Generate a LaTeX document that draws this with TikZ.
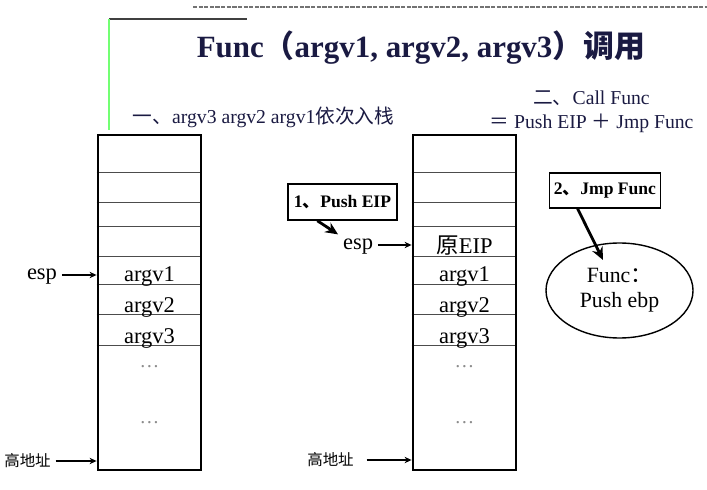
\documentclass[tikz,border=0pt]{standalone}
\usepackage{fontspec}
\setmainfont{Liberation Serif}
\newfontfamily\cjk{Noto Sans CJK SC}
\usepackage{xcolor}
\usepackage{tikz}
\usetikzlibrary{arrows.meta, positioning, shapes, calc, fit, backgrounds}

\definecolor{titleblue}{RGB}{26,26,66}

\begin{document}
\begin{tikzpicture}[
    stack/.style={rectangle, draw=black, line width=2pt, minimum width=2.575cm, minimum height=8.375cm, inner sep=0pt},
    row/.style={draw=black!70, line width=0.7pt},
    cell/.style={anchor=base, inner sep=0pt, font=\fontsize{16}{18}\selectfont},
    dots/.style={text=black!45, font=\fontsize{14}{16}\selectfont},
    reg/.style={text height=1.5ex, text depth=.25ex, font=\fontsize{16}{18}\selectfont},
    addr/.style={font=\cjk\fontsize{11}{13}\selectfont},
    ptr/.style={->, >={Stealth[length=5pt, width=4.5pt]}, line width=0.8pt},
    bigptr/.style={->, >={Stealth[length=9pt, width=8pt]}, line width=2pt},
    stepbox/.style={rectangle, draw=black, line width=1pt, align=center, font=\bfseries\fontsize{12.5}{14}\selectfont},
    heading/.style={text=titleblue, align=center, font=\fontsize{14}{17}\selectfont},
]

\useasboundingbox (0,0) rectangle (17.675,-12.25);

% ===== Top: page rules =====
\draw[black!55, dash pattern=on 3pt off 1pt, line width=0.8pt] (4.825,-0.175) -- (17.675,-0.175);
\draw[black!75, line width=1.2pt] (2.725,-0.475) -- (6.175,-0.475);
\draw[green!55, line width=0.8pt] (2.725,-0.475) -- (2.725,-3.25);

% ===== Titles =====
\node[text=titleblue, font=\bfseries\fontsize{22}{26}\selectfont] (title) at (10.525,-1.2)
    {Func{\cjk （}argv1, argv2, argv3{\cjk ）调用}};
\node[heading] (pushargs) at (6.5875,-2.925) {{\cjk 一、}argv3 argv2 argv1{\cjk 依次入栈}};
\node[heading] (callfunc) at (14.7875,-2.8) {{\cjk 二、}Call Func\\{\cjk ＝} Push EIP {\cjk ＋} Jmp Func};

% ===== Stacks =====
\node[stack] (lstack) at (3.7375,-7.5625) {};
\node[stack] (rstack) at (11.6125,-7.5625) {};

\begin{scope}[on background layer]
\foreach \s in {lstack, rstack}
    \foreach \y in {-4.3,-5.05,-5.65,-6.4,-7.1,-7.85,-8.625}
        \draw[row] (\s.west |- 0,\y) -- (\s.east |- 0,\y);
\end{scope}

% ===== Left stack: arguments pushed =====
\node[cell] (largv1) at (3.7375,-7.05) {argv1};
\node[cell] (largv2) at (3.7375,-7.8) {argv2};
\node[cell] (largv3) at (3.7375,-8.575) {argv3};
\node[dots] (ldots1) at (3.7375,-9.175) {\textellipsis};
\node[dots] (ldots2) at (3.7375,-10.575) {\textellipsis};

\node[reg] (lesp) at (1.05,-6.875) {esp};
\node[addr] (lhigh) at (0.6875,-11.525) {高地址};
\draw[ptr] (lesp.east) -- (lesp.east -| lstack.west);
\draw[ptr] (lhigh.east) -- (lhigh.east -| lstack.west);

% ===== Right stack: return address pushed =====
\node[cell] (reip) at (11.6125,-6.35) {{\cjk 原}EIP};
\node[cell] (rargv1) at (11.6125,-7.05) {argv1};
\node[cell] (rargv2) at (11.6125,-7.8) {argv2};
\node[cell] (rargv3) at (11.6125,-8.575) {argv3};
\node[dots] (rdots1) at (11.6125,-9.175) {\textellipsis};
\node[dots] (rdots2) at (11.6125,-10.575) {\textellipsis};

\node[reg] (resp) at (8.95,-6.125) {esp};
\node[addr] (rhigh) at (8.2625,-11.5) {高地址};
\draw[ptr] (resp.east) -- (resp.east -| rstack.west);
\draw[ptr, shorten <=0.2cm] (rhigh.east) -- (rhigh.east -| rstack.west);

% ===== Step 1: Push EIP =====
\node[stepbox, minimum width=2.725cm, minimum height=0.9cm] (pusheip) at (8.5625,-5.05) {1{\cjk 、}Push EIP};
\draw[bigptr] ([xshift=0.75cm]pusheip.south west) -- (resp.north west);

% ===== Step 2: Jmp Func =====
\node[stepbox, minimum width=2.65cm, minimum height=0.875cm] (jmpfunc) at (15.125,-4.7625) {2{\cjk 、}Jmp Func};
\node[ellipse, draw=black, line width=1pt, minimum width=3.675cm, minimum height=2.375cm, align=center,
    font=\fontsize{15.5}{17.8}\selectfont] (func) at (15.4875,-7.2625) {Func{\cjk ：}\\Push ebp};
\draw[bigptr] ([xshift=0.725cm]jmpfunc.south west) -- ([shift={(-0.4125,0.7625)}]func.center);

\end{tikzpicture}
\end{document}
